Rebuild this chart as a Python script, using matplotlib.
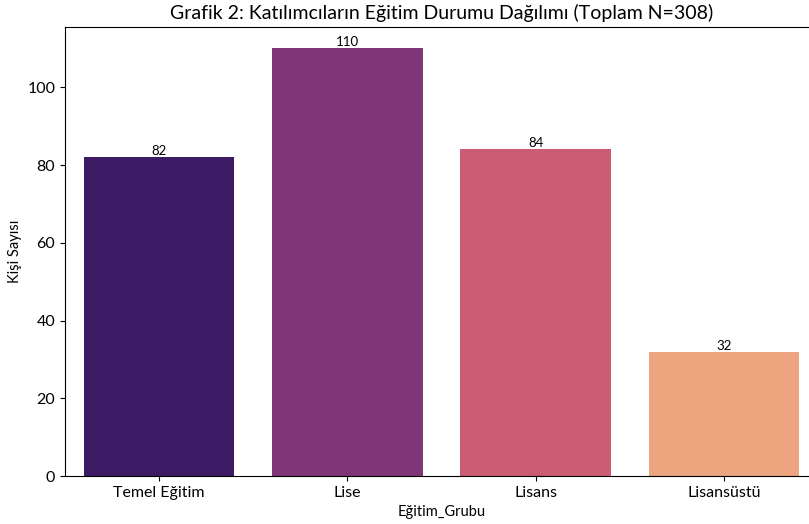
import matplotlib
matplotlib.use('Agg')
import matplotlib.pyplot as plt
import seaborn as sns

groups = ['Temel Eğitim', 'Lise', 'Lisans', 'Lisansüstü']
counts = [82, 110, 84, 32]

plt.rcParams['font.family'] = ['Lato', 'DejaVu Sans']

fig = plt.figure(figsize=(8.09, 5.24), dpi=100)
ax = fig.add_axes([65 / 809, 1 - 476 / 524, (818 - 65) / 809, (476 - 27) / 524])

colors = sns.color_palette('magma', len(groups))
colors = [sns.desaturate(c, 0.75) for c in colors]

bars = ax.bar(groups, counts, color=colors, width=0.8)
ax.bar_label(bars, fontsize=9.5)
ax.set_xlim(-0.5, 3.5)
ax.set_ylim(0, 115.5)

ax.set_title('Grafik 2: Katılımcıların Eğitim Durumu Dağılımı (Toplam N=308)', fontsize=14)
ax.set_xlabel('Eğitim_Grubu', fontsize=10.5)
ax.set_ylabel('Kişi Sayısı', fontsize=10.5)
ax.tick_params(labelsize=11.5)

plt.savefig('out.png', dpi=100)
